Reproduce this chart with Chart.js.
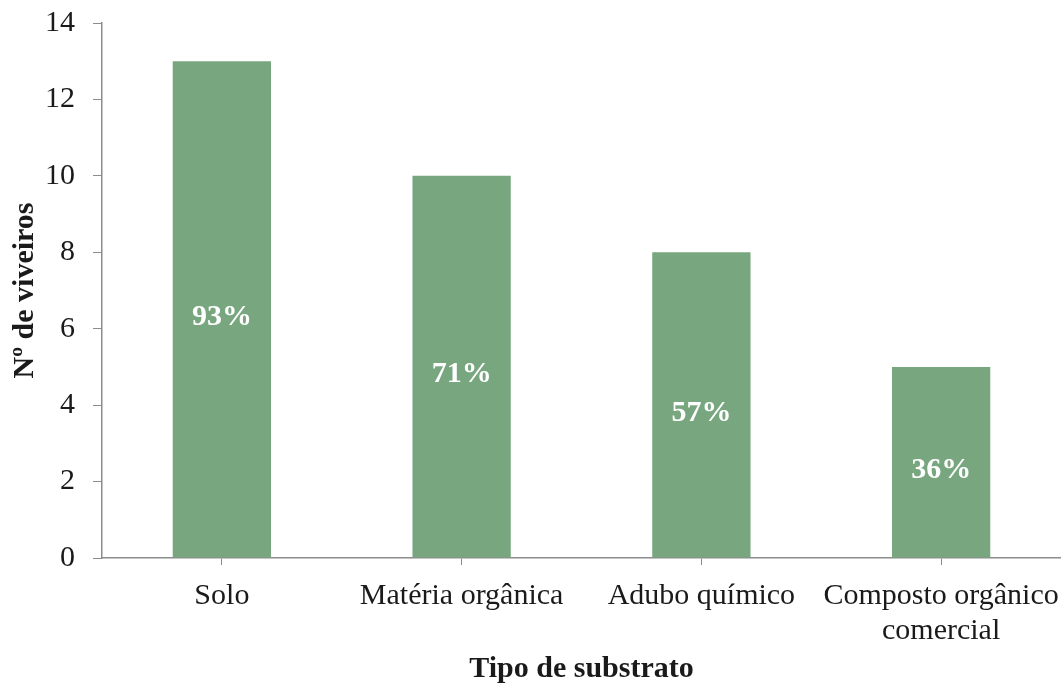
<!DOCTYPE html>
<html>
<head>
<meta charset="utf-8">
<script src="https://cdn.jsdelivr.net/npm/chart.js@4"></script>
<style>
  html, body { margin: 0; padding: 0; background: #fff; }
  #wrap { width: 1061px; height: 684px; position: relative; }
</style>
</head>
<body>
<div id="wrap"><canvas id="barChart"></canvas></div>
<script>
// data
const categories = ["Solo", "Matéria orgânica", "Adubo químico", ["Composto orgânico", "comercial"]];
const viveiros = [13, 10, 8, 5];
const percentLabels = ["93%", "71%", "57%", "36%"];

const axisColor = "#8c8c8c";
const barColor = "#78a67f";
const serif = "'Liberation Serif', 'Times New Roman', serif";

// white % labels inside each bar
const percentPlugin = {
  id: "percentPlugin",
  afterDatasetsDraw(chart) {
    const ctx = chart.ctx;
    const meta = chart.getDatasetMeta(0);
    ctx.save();
    ctx.fillStyle = "#ffffff";
    ctx.font = "bold 30px " + serif;
    ctx.textAlign = "center";
    ctx.textBaseline = "middle";
    meta.data.forEach((bar, i) => {
      const mid = (bar.y + bar.base) / 2;
      ctx.fillText(percentLabels[i], bar.x, mid + 8);
    });
    ctx.restore();
  }
};

const ctx = document.getElementById("barChart").getContext("2d");
new Chart(ctx, {
  type: "bar",
  data: {
    labels: categories,
    datasets: [{
      data: viveiros,
      backgroundColor: barColor,
      borderWidth: 0,
      barPercentage: 0.41,
      categoryPercentage: 1
    }]
  },
  options: {
    responsive: true,
    maintainAspectRatio: false,
    animation: false,
    layout: { padding: { top: 23, right: 0, left: 0, bottom: 0 } },
    plugins: {
      legend: { display: false },
      tooltip: { enabled: false }
    },
    scales: {
      x: {
        grid: {
          display: true,
          drawOnChartArea: false,
          drawTicks: true,
          tickLength: 7,
          offset: false,
          color: axisColor
        },
        border: { color: axisColor, width: 1.5 },
        ticks: {
          color: "#1a1a1a",
          padding: 14,
          maxRotation: 0,
          autoSkip: false,
          font: { family: serif, size: 30, lineHeight: 1.15 }
        },
        title: {
          display: true,
          text: "Tipo de substrato",
          color: "#1a1a1a",
          font: { family: serif, size: 30, weight: "bold", lineHeight: 1 },
          padding: { top: 4, bottom: 0 }
        },
        afterFit(scale) {
          scale.height = 126;
          scale.paddingLeft = 0;
          scale.paddingRight = 0;
        }
      },
      y: {
        min: 0,
        max: 14,
        ticks: {
          stepSize: 2,
          color: "#1a1a1a",
          padding: 18,
          font: { family: serif, size: 30 }
        },
        grid: {
          display: true,
          drawOnChartArea: false,
          drawTicks: true,
          tickLength: 9,
          color: axisColor
        },
        border: { color: axisColor, width: 1.5 },
        title: {
          display: true,
          text: "Nº de viveiros",
          color: "#1a1a1a",
          font: { family: serif, size: 30, weight: "bold", lineHeight: 1 },
          padding: { top: 10, bottom: 4 }
        },
        afterFit(scale) {
          scale.width = 102;
          scale.paddingTop = 0;
          scale.paddingBottom = 0;
        }
      }
    }
  },
  plugins: [percentPlugin]
});
</script>
</body>
</html>
